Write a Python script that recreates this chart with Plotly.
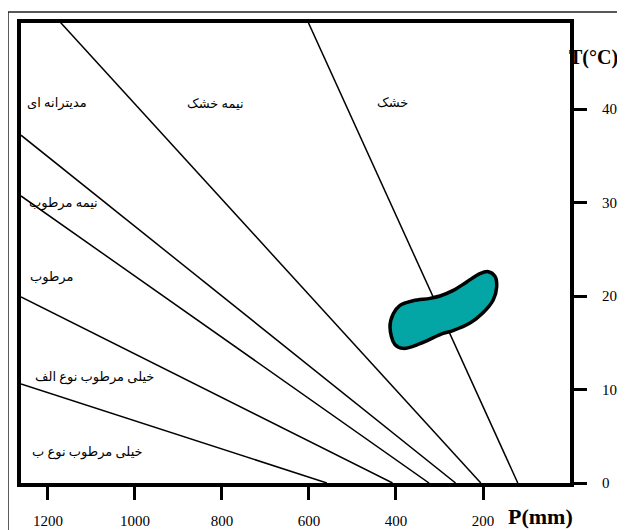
import plotly.graph_objects as go

# Climate boundary lines (P in mm, T in °C)
line_P_start = [1172, 602, 1262, 1262, 1262, 1262]
line_T_start = [49.3, 49.3, 37.2, 30.7, 19.9, 10.6]
line_P_end = [205, 120, 263, 324, 408, 559]
line_T_end = [0, 0, 0, 0, 0, 0]

# Station envelope (closed outline)
blob_P = [413.8, 402.3, 383.2, 344.9, 292.0, 269.0, 229.9, 200.0, 176.3, 168.5,
          172.4, 187.8, 206.9, 237.5, 268.3, 298.9, 321.9, 360.3, 390.8, 406.2, 413.8]
blob_T = [16.7, 14.8, 14.4, 14.9, 16.0, 16.3, 17.1, 18.2, 19.6, 21.0,
          22.1, 22.6, 22.4, 21.5, 20.6, 20.0, 19.75, 19.5, 19.0, 18.1, 16.7]

# Region names
region_names = ["مدیترانه ای", "نیمه خشک", "خشک", "نیمه مرطوب", "مرطوب",
                "خیلی مرطوب نوع الف", "خیلی مرطوب نوع ب"]
region_P = [1253, 816, 407, 1248, 1246, 1235, 1241]
region_T = [40.6, 40.6, 40.7, 29.9, 22.0, 11.3, 3.3]
region_anchor = ["left", "center", "center", "left", "left", "left", "left"]

x_ticks = [1200, 1000, 800, 600, 400, 200]
y_ticks = [0, 10, 20, 30, 40]

fig = go.Figure()

for p0, t0, p1, t1 in zip(line_P_start, line_T_start, line_P_end, line_T_end):
    fig.add_trace(go.Scatter(x=[p0, p1], y=[t0, t1], mode="lines",
                             line=dict(color="black", width=1.5),
                             hoverinfo="skip", showlegend=False))

fig.add_trace(go.Scatter(x=blob_P, y=blob_T, mode="lines", fill="toself",
                         fillcolor="#03A6A4",
                         line=dict(color="black", width=3.5, shape="spline", smoothing=1.0),
                         showlegend=False))

serif = "Liberation Serif, Times New Roman, DejaVu Sans, serif"

for name, p, t, a in zip(region_names, region_P, region_T, region_anchor):
    fig.add_annotation(x=p, y=t, text=name, showarrow=False, xanchor=a,
                       yanchor="middle", font=dict(family=serif, size=13, color="black"))

fig.add_annotation(xref="paper", yref="paper", x=0.947, y=-0.073, text="<b>P(mm)</b>",
                   showarrow=False, xanchor="center", yanchor="middle",
                   font=dict(family=serif, size=22, color="black"))
fig.add_annotation(xref="paper", yref="paper", x=1.043, y=0.926, text="<b>T(°C)</b>",
                   showarrow=False, xanchor="center", yanchor="middle",
                   font=dict(family=serif, size=20, color="black"))

# outer thin frame
fig.add_shape(type="rect", xref="paper", yref="paper",
              x0=-0.0237, x1=1.0965, y0=-0.13, y1=1.024,
              line=dict(color="#222", width=1.5), layer="below")

fig.update_xaxes(range=[1262, 0], tickvals=x_ticks, ticks="outside", ticklen=13,
                 tickwidth=3, tickcolor="black", showline=True, linewidth=4,
                 linecolor="black", mirror=True, showgrid=False, zeroline=False,
                 ticklabelstandoff=8, automargin=False,
                 tickfont=dict(family=serif, size=15, color="black"))
fig.update_yaxes(range=[0, 49.2], tickvals=y_ticks, side="right", ticks="outside",
                 ticklen=13, tickwidth=3, tickcolor="black", showline=True,
                 linewidth=4, linecolor="black", mirror=True, showgrid=False,
                 zeroline=False, ticklabelstandoff=12, automargin=False,
                 tickfont=dict(family=serif, size=15, color="black"))

fig.update_layout(width=617, height=522, margin=dict(l=13, r=55, t=15, b=47),
                  paper_bgcolor="white", plot_bgcolor="white", showlegend=False)

fig.write_html("out.html")
